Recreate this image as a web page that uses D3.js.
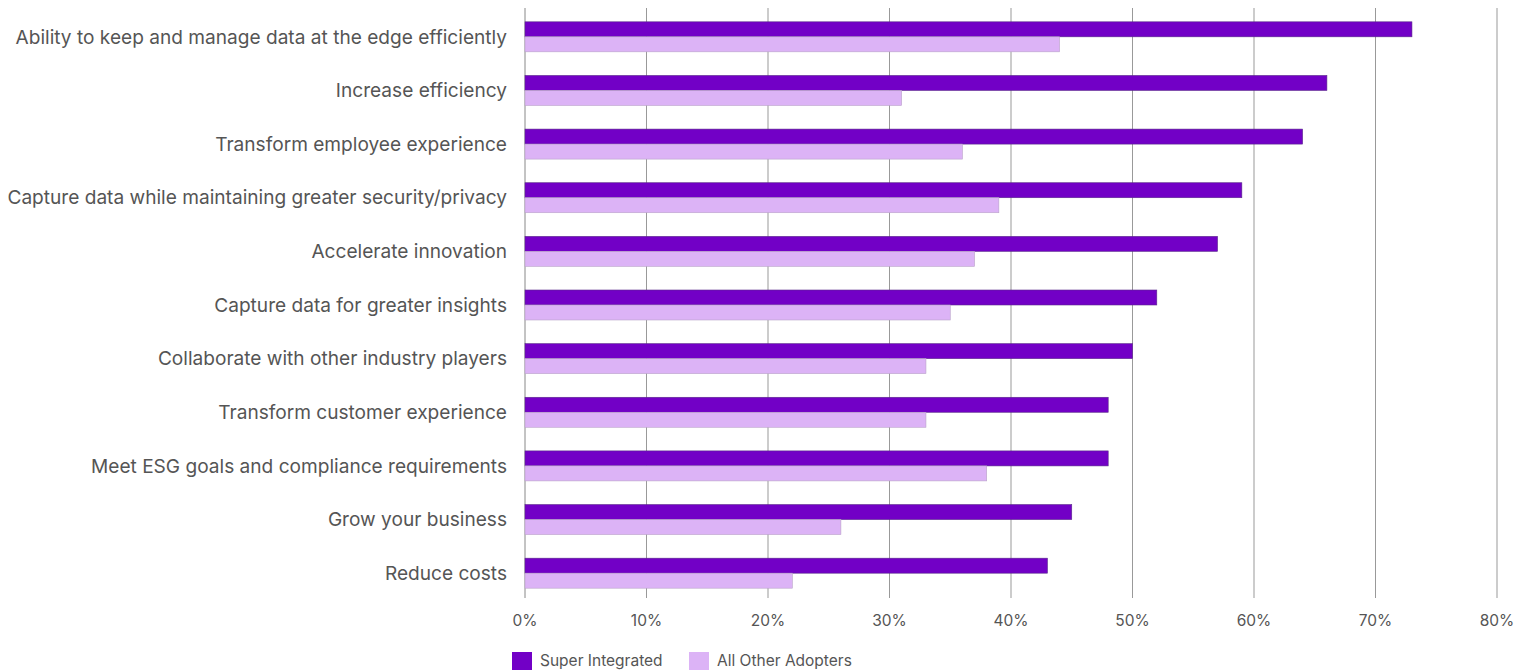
<!DOCTYPE html>
<html>
<head>
<meta charset="utf-8">
<script src="https://cdn.jsdelivr.net/npm/d3@7"></script>
<style>
  body { margin: 0; background: #fff; overflow: hidden; }
  text { font-family: Inter, "Noto Sans", sans-serif; fill: #555; }
</style>
</head>
<body>
<svg id="chart"></svg>
<script>
// Chart data
const categories = [
  "Ability to keep and manage data at the edge efficiently",
  "Increase efficiency",
  "Transform employee experience",
  "Capture data while maintaining greater security/privacy",
  "Accelerate innovation",
  "Capture data for greater insights",
  "Collaborate with other industry players",
  "Transform customer experience",
  "Meet ESG goals and compliance requirements",
  "Grow your business",
  "Reduce costs"
];
const superIntegrated = [73, 66, 64, 59, 57, 52, 50, 48, 48, 45, 43];
const allOtherAdopters = [44, 31, 36, 39, 37, 35, 33, 33, 38, 26, 22];
const seriesNames = ["Super Integrated", "All Other Adopters"];
const tickValues = [0, 10, 20, 30, 40, 50, 60, 70, 80];

(function () {
  const width = 1522, height = 670;
  const plot = {left: 525, right: 1497, top: 10, bottom: 600};
  const colors = ["#7200c6", "#dcb3f6"];
  const strokes = ["#5a2a8a", "#b9a3c9"];

  const svg = d3.select("#chart")
      .attr("width", width)
      .attr("height", height)
      .style("display", "block");

  const x = d3.scaleLinear()
      .domain([0, 80])
      .range([plot.left, plot.right]);

  const y = d3.scaleBand()
      .domain(categories)
      .range([plot.top, plot.bottom]);

  const barH = 15;

  // vertical gridlines
  svg.append("g")
    .selectAll("line")
    .data(tickValues)
    .enter().append("line")
      .attr("x1", d => x(d)).attr("x2", d => x(d))
      .attr("y1", 8).attr("y2", 598)
      .attr("stroke", d => d === 0 ? "#888" : "#999")
      .attr("stroke-width", 1);

  // x tick labels
  svg.append("g")
    .selectAll("text")
    .data(tickValues)
    .enter().append("text")
      .attr("x", d => x(d))
      .attr("y", 621)
      .attr("dy", "0.35em")
      .attr("text-anchor", "middle")
      .style("font-size", "15.5px")
      .text(d => d + "%");

  // category labels
  svg.append("g")
    .selectAll("text")
    .data(categories)
    .enter().append("text")
      .attr("x", 507)
      .attr("y", d => y(d) + y.bandwidth() / 2)
      .attr("dy", "0.35em")
      .attr("text-anchor", "end")
      .style("font-size", "19.1px")
      .text(d => d);

  // bars
  const rows = categories.map((c, i) => ({cat: c, vals: [superIntegrated[i], allOtherAdopters[i]]}));
  const groups = svg.append("g")
    .selectAll("g")
    .data(rows)
    .enter().append("g")
      .attr("transform", d => `translate(0,${y(d.cat) + y.bandwidth() / 2 - barH})`);

  groups.selectAll("rect")
    .data(d => d.vals.map((v, k) => ({v, k})))
    .enter().append("rect")
      .attr("x", x(0))
      .attr("y", d => d.k * barH)
      .attr("width", d => x(d.v) - x(0))
      .attr("height", barH)
      .attr("fill", d => colors[d.k])
      .attr("stroke", d => strokes[d.k])
      .attr("stroke-width", 0.6);

  // legend
  const legendX = [512, 689];
  const legend = svg.append("g")
    .selectAll("g")
    .data(seriesNames)
    .enter().append("g")
      .attr("transform", (d, i) => `translate(${legendX[i]},652)`);

  legend.append("rect")
      .attr("width", 20).attr("height", 18)
      .attr("fill", (d, i) => colors[i]);

  legend.append("text")
      .attr("x", 28)
      .attr("y", 14)
      .style("font-size", "15.5px")
      .text(d => d);
})();
</script>
</body>
</html>
